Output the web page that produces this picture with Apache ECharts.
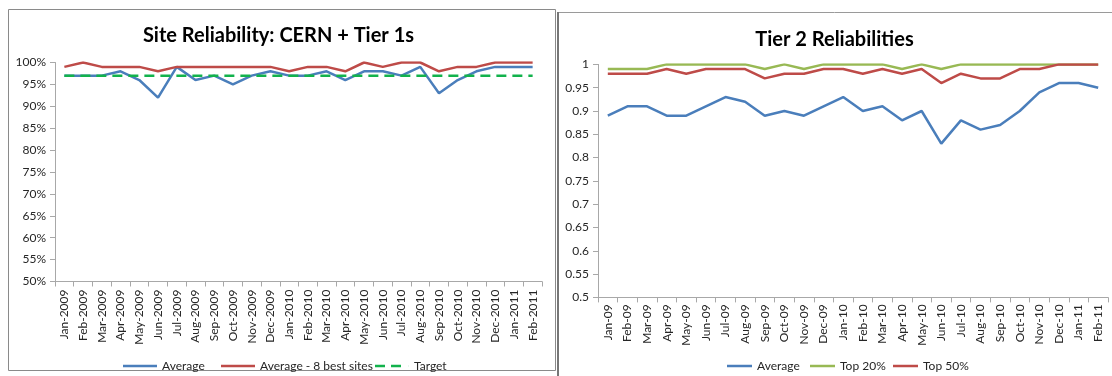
<!DOCTYPE html>
<html>
<head>
<meta charset="utf-8">
<script src="https://cdn.jsdelivr.net/npm/echarts@6/dist/echarts.min.js"></script>
<style>
  html, body { margin: 0; padding: 0; background: #ffffff; }
  body { width: 1112px; height: 376px; position: relative; overflow: hidden; }
  #t1 { position: absolute; left: 0; top: 0; width: 557px; height: 376px; }
  #t2 { position: absolute; left: 557px; top: 0; width: 555px; height: 376px; }
</style>
</head>
<body>
<div id="t1"></div>
<div id="t2"></div>
<script>
// Monthly site reliability, Jan 2009 - Feb 2011
const monthsLong = ['Jan-2009','Feb-2009','Mar-2009','Apr-2009','May-2009','Jun-2009','Jul-2009','Aug-2009','Sep-2009','Oct-2009','Nov-2009','Dec-2009','Jan-2010','Feb-2010','Mar-2010','Apr-2010','May-2010','Jun-2010','Jul-2010','Aug-2010','Sep-2010','Oct-2010','Nov-2010','Dec-2010','Jan-2011','Feb-2011'];
const monthsShort = ['Jan-09','Feb-09','Mar-09','Apr-09','May-09','Jun-09','Jul-09','Aug-09','Sep-09','Oct-09','Nov-09','Dec-09','Jan-10','Feb-10','Mar-10','Apr-10','May-10','Jun-10','Jul-10','Aug-10','Sep-10','Oct-10','Nov-10','Dec-10','Jan-11','Feb-11'];

// CERN + Tier 1s (percent)
const t1Average = [97,97,97,98,96,92,99,96,97,95,97,98,97,97,98,96,98,98,97,99,93,96,98,99,99,99];
const t1Best8   = [99,100,99,99,99,98,99,99,99,99,99,99,98,99,99,98,100,99,100,100,98,99,99,100,100,100];
const t1Target  = [97,97,97,97,97,97,97,97,97,97,97,97,97,97,97,97,97,97,97,97,97,97,97,97,97,97];

// Tier 2 (fraction)
const t2Average = [0.89,0.91,0.91,0.89,0.89,0.91,0.93,0.92,0.89,0.90,0.89,0.91,0.93,0.90,0.91,0.88,0.90,0.83,0.88,0.86,0.87,0.90,0.94,0.96,0.96,0.95];
const t2Top20   = [0.99,0.99,0.99,1,1,1,1,1,0.99,1,0.99,1,1,1,1,0.99,1,0.99,1,1,1,1,1,1,1,1];
const t2Top50   = [0.98,0.98,0.98,0.99,0.98,0.99,0.99,0.99,0.97,0.98,0.98,0.99,0.99,0.98,0.99,0.98,0.99,0.96,0.98,0.97,0.97,0.99,0.99,1,1,1];

const FONT = 'Lato, "Liberation Sans", sans-serif';
const TXT = '#262626';
const AXIS = '#a8a8a8';
const BLUE = '#4a7ebb', RED = '#be4b48', GREEN = '#98b954', TGREEN = '#12b24c';

// legend glyphs: a plain stroke, and a two-dash stroke for the target line
// (the dash path spans 34 x 2.5 so it keeps its proportions in the legend box)
const ICON_SOLID = 'rect';
const ICON_DASH = 'path://M0,0h10v2.5h-10z M16,0h10v2.5h-10z M33.9,0h0.1v2.5h-0.1z';

function xAxisCfg(cats, margin) {
  return {
    type: 'category', data: cats, boundaryGap: true,
    axisLine: { lineStyle: { color: AXIS, width: 1 } },
    axisTick: { show: true, length: 5, lineStyle: { color: AXIS } },
    axisLabel: { rotate: 90, interval: 0, margin: margin, color: TXT, fontFamily: FONT, fontSize: 12 },
    splitLine: { show: false }
  };
}
function yAxisCfg(min, max, step, fmt) {
  return {
    type: 'value', min: min, max: max, interval: step,
    axisLine: { show: true, lineStyle: { color: AXIS, width: 1 } },
    axisTick: { show: true, length: 5, lineStyle: { color: AXIS } },
    axisLabel: { margin: 9, color: TXT, fontFamily: FONT, fontSize: 12, formatter: fmt },
    splitLine: { show: false }
  };
}
function lineSeries(name, data, color, width, dash) {
  return {
    name: name, type: 'line', data: data, symbol: 'none', smooth: false,
    lineStyle: { color: color, width: width, type: dash || 'solid' },
    itemStyle: { color: color }, z: 3
  };
}
function legendItem(name, left, top, w, icon) {
  return {
    data: [{ name: name, icon: icon || ICON_SOLID }],
    left: left, top: top, itemWidth: w, itemHeight: 2.5,
    itemStyle: { borderWidth: 0 },
    textStyle: { color: TXT, fontFamily: FONT, fontSize: 12 }, selectedMode: false
  };
}

// Left chart: CERN + Tier 1s
const c1 = echarts.init(document.getElementById('t1'), null, { renderer: 'canvas' });
c1.setOption({
  animation: false,
  title: {
    text: 'Site Reliability: CERN + Tier 1s', left: 'center', top: 21,
    textStyle: { fontFamily: FONT, fontWeight: 'bold', fontSize: 20, color: '#000' }
  },
  graphic: [{
    type: 'rect', shape: { x: 8.5, y: 9.5, width: 547, height: 361 },
    style: { fill: 'none', stroke: '#8a8a8a', lineWidth: 1 }, silent: true
  }],
  grid: { left: 55, right: 15, top: 62.5, bottom: 94.5 },
  xAxis: xAxisCfg(monthsLong, 8),
  yAxis: yAxisCfg(50, 100, 5, '{value}%'),
  legend: [
    legendItem('Average', 118, 355, 34),
    legendItem('Average - 8 best sites', 216, 355, 34),
    legendItem('Target', 370, 355, 34, ICON_DASH)
  ],
  series: [
    lineSeries('Average', t1Average, BLUE, 2.5),
    lineSeries('Average - 8 best sites', t1Best8, RED, 2.5),
    lineSeries('Target', t1Target, TGREEN, 2.5, [10, 6])
  ]
});

// Right chart: Tier 2
const c2 = echarts.init(document.getElementById('t2'), null, { renderer: 'canvas' });
c2.setOption({
  animation: false,
  title: {
    text: 'Tier 2 Reliabilities', left: 'center', top: 25,
    textStyle: { fontFamily: FONT, fontWeight: 'bold', fontSize: 20, color: '#000' }
  },
  graphic: [
    { type: 'line', shape: { x1: 0, y1: 12.5, x2: 555, y2: 12.5 }, style: { stroke: '#9a9a9a', lineWidth: 1 }, silent: true },
    { type: 'line', shape: { x1: 1, y1: 12, x2: 1, y2: 376 }, style: { stroke: '#777777', lineWidth: 2 }, silent: true }
  ],
  grid: { left: 41, right: 4, top: 64.4, bottom: 78.6 },
  xAxis: xAxisCfg(monthsShort, 7),
  yAxis: yAxisCfg(0.5, 1, 0.05, function (v) { return String(Math.round(v * 100) / 100); }),
  legend: [
    legendItem('Average', 165, 355, 25),
    legendItem('Top 20%', 248, 355, 25),
    legendItem('Top 50%', 331, 355, 25)
  ],
  series: [
    lineSeries('Average', t2Average, BLUE, 2.5),
    lineSeries('Top 20%', t2Top20, GREEN, 2.5),
    lineSeries('Top 50%', t2Top50, RED, 2.5)
  ]
});
</script>
</body>
</html>
